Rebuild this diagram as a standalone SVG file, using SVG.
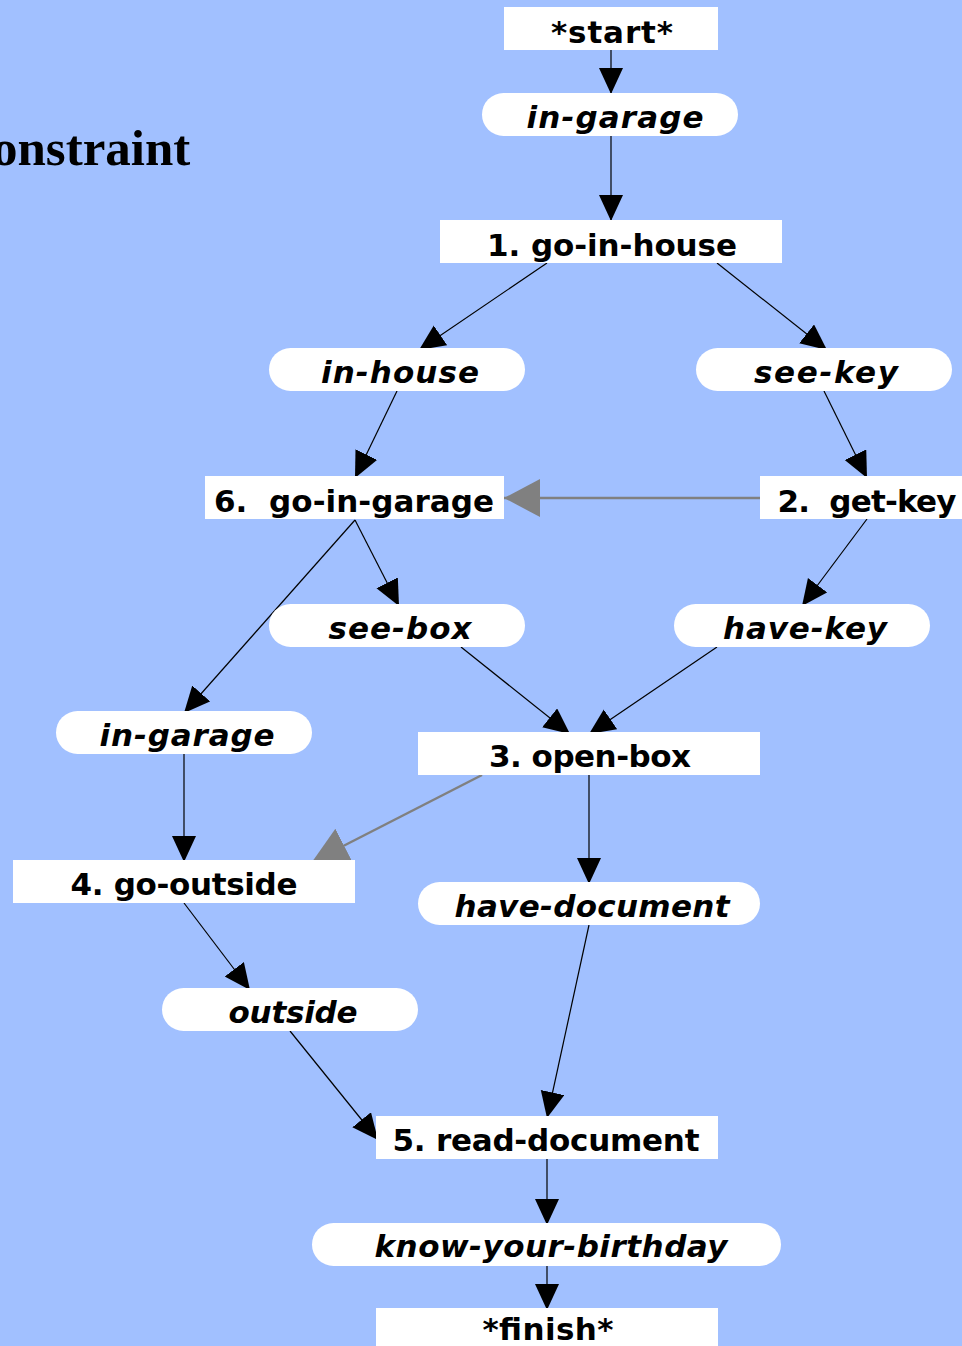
<svg xmlns="http://www.w3.org/2000/svg" width="962" height="1346" viewBox="0 0 962 1346">
<style>
.bg{fill:#a1c0ff}
.box{fill:#ffffff}
.t{font-family:"DejaVu Sans",sans-serif;font-weight:bold;font-size:31px;fill:#000;text-anchor:middle}
.i{font-style:italic}
.e{stroke:#000;stroke-width:1.2;fill:none;marker-end:url(#ah)}
.g{stroke:#808080;stroke-width:2.5;fill:none;marker-end:url(#gh)}
.title{font-family:"Liberation Serif",serif;font-weight:bold;font-size:51px;fill:#000}
</style>
<defs>
<marker id="ah" markerUnits="userSpaceOnUse" markerWidth="28" markerHeight="26" refX="26" refY="12" orient="auto"><path d="M0,0 L26,12 L0,24 z" fill="#000"/></marker>
<marker id="gh" markerUnits="userSpaceOnUse" markerWidth="38" markerHeight="40" refX="36" refY="19" orient="auto"><path d="M0,0 L36,19 L0,38 z" fill="#808080"/></marker>
</defs>
<rect class="bg" x="0" y="0" width="962" height="1346"/>
<text class="title" x="-8" y="165">onstraint</text>
<g id="connectors">
<line class="e" x1="611" y1="50" x2="611" y2="94"/>
<line class="e" x1="611" y1="135" x2="611" y2="221"/>
<line class="e" x1="547" y1="263" x2="419" y2="350"/>
<line class="e" x1="717" y1="263" x2="827" y2="350"/>
<line class="e" x1="397" y1="391" x2="355" y2="478"/>
<line class="e" x1="824" y1="391" x2="867" y2="478"/>
<line class="g" x1="760" y1="498" x2="504" y2="498"/>
<line class="e" x1="355" y1="520" x2="399" y2="606"/>
<line class="e" x1="355" y1="520" x2="184" y2="713"/>
<line class="e" x1="867" y1="519" x2="802" y2="606"/>
<line class="e" x1="461" y1="647" x2="570" y2="734"/>
<line class="e" x1="717" y1="647" x2="589" y2="734"/>
<line class="e" x1="184" y1="754" x2="184" y2="862"/>
<line class="g" x1="482" y1="775" x2="312" y2="862"/>
<line class="e" x1="589" y1="775" x2="589" y2="884"/>
<line class="e" x1="184" y1="903" x2="250" y2="990"/>
<line class="e" x1="290" y1="1031" x2="378" y2="1140"/>
<line class="e" x1="589" y1="925" x2="547" y2="1118"/>
<line class="e" x1="547" y1="1159" x2="547" y2="1225"/>
<line class="e" x1="547" y1="1266" x2="547" y2="1310"/>
</g>
<g id="n-start"><rect class="box" x="504" y="7" width="214" height="43"/><text class="t" x="612" y="43" textLength="122" lengthAdjust="spacing">*start*</text></g>
<g id="n-in-garage-1"><rect class="box" x="482" y="93" width="256" height="43" rx="21.5"/><text class="t i" x="615" y="128" textLength="177" lengthAdjust="spacing">in-garage</text></g>
<g id="n-go-in-house"><rect class="box" x="440" y="220" width="342" height="43"/><text class="t" x="612" y="256" textLength="250" lengthAdjust="spacing">1. go-in-house</text></g>
<g id="n-in-house"><rect class="box" x="269" y="348" width="256" height="43" rx="21.5"/><text class="t i" x="400" y="383" textLength="158" lengthAdjust="spacing">in-house</text></g>
<g id="n-see-key"><rect class="box" x="696" y="348" width="256" height="43" rx="21.5"/><text class="t i" x="826" y="383" textLength="144" lengthAdjust="spacing">see-key</text></g>
<g id="n-go-in-garage"><rect class="box" x="205" y="476" width="299" height="43"/><text class="t" x="354" y="512" xml:space="preserve" textLength="280" lengthAdjust="spacing">6.  go-in-garage</text></g>
<g id="n-get-key"><rect class="box" x="760" y="476" width="215" height="43"/><text class="t" x="867" y="512" xml:space="preserve" textLength="179" lengthAdjust="spacing">2.  get-key</text></g>
<g id="n-see-box"><rect class="box" x="269" y="604" width="256" height="43" rx="21.5"/><text class="t i" x="400" y="639" textLength="143" lengthAdjust="spacing">see-box</text></g>
<g id="n-have-key"><rect class="box" x="674" y="604" width="256" height="43" rx="21.5"/><text class="t i" x="805" y="639" textLength="164" lengthAdjust="spacing">have-key</text></g>
<g id="n-in-garage-2"><rect class="box" x="56" y="711" width="256" height="43" rx="21.5"/><text class="t i" x="187" y="746" textLength="175" lengthAdjust="spacing">in-garage</text></g>
<g id="n-open-box"><rect class="box" x="418" y="732" width="342" height="43"/><text class="t" x="590" y="767" textLength="202" lengthAdjust="spacing">3. open-box</text></g>
<g id="n-go-outside"><rect class="box" x="13" y="860" width="342" height="43"/><text class="t" x="184" y="895" textLength="227" lengthAdjust="spacing">4. go-outside</text></g>
<g id="n-have-document"><rect class="box" x="418" y="882" width="342" height="43" rx="21.5"/><text class="t i" x="592" y="917" textLength="275" lengthAdjust="spacing">have-document</text></g>
<g id="n-outside"><rect class="box" x="162" y="988" width="256" height="43" rx="21.5"/><text class="t i" x="293" y="1023" textLength="129" lengthAdjust="spacing">outside</text></g>
<g id="n-read-document"><rect class="box" x="376" y="1116" width="342" height="43"/><text class="t" x="546" y="1151" textLength="307" lengthAdjust="spacing">5. read-document</text></g>
<g id="n-know-your-birthday"><rect class="box" x="312" y="1223" width="469" height="43" rx="21.5"/><text class="t i" x="551" y="1257" textLength="353" lengthAdjust="spacing">know-your-birthday</text></g>
<g id="n-finish"><rect class="box" x="376" y="1308" width="342" height="43"/><text class="t" x="548" y="1340" textLength="131" lengthAdjust="spacing">*finish*</text></g>
</svg>
